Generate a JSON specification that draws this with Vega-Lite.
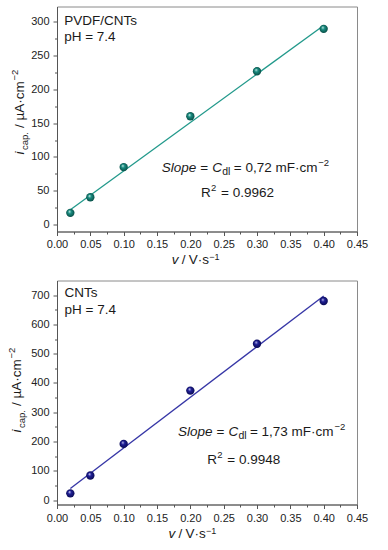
{
  "$schema": "https://vega.github.io/schema/vega-lite/v6.json",
  "background": "white",
  "autosize": {"type": "pad"},
  "padding": {"left": 6, "top": 5.5, "right": 5, "bottom": 5},
  "datasets": {
    "pvdf": [{"v": 0.02, "i": 17.5}, {"v": 0.05, "i": 40.5}, {"v": 0.1, "i": 85}, {"v": 0.2, "i": 160}, {"v": 0.3, "i": 226.5}, {"v": 0.4, "i": 289}],
    "pvdf_fit": [{"v": 0.02, "i": 22}, {"v": 0.4, "i": 294}],
    "cnt": [{"v": 0.02, "i": 23}, {"v": 0.05, "i": 84}, {"v": 0.1, "i": 192}, {"v": 0.2, "i": 374}, {"v": 0.3, "i": 534}, {"v": 0.4, "i": 680}],
    "cnt_fit": [{"v": 0.02, "i": 40}, {"v": 0.4, "i": 697}],
    "one": [{}]
  },
  "vconcat": [
    {
      "width": 300,
      "height": 225,
      "resolve": {"axis": {"x": "independent", "y": "independent"}},
      "layer": [
        {
          "data": {"name": "pvdf_fit"},
          "mark": {"type": "line", "color": "#22998b", "strokeWidth": 1.3},
          "encoding": {
            "x": {"field": "v", "type": "quantitative", "scale": {"domain": [0, 0.45], "nice": false, "zero": false}, "axis": {"orient": "bottom", "values": [0.025, 0.075, 0.125, 0.175, 0.225, 0.275, 0.325, 0.375, 0.425], "labels": false, "domain": false, "grid": false, "title": null, "tickSize": 2.5, "tickColor": "#555"}},
            "y": {"field": "i", "type": "quantitative", "scale": {"domain": [-10, 322], "nice": false, "zero": false}, "axis": {"orient": "left", "values": [25, 75, 125, 175, 225, 275], "labels": false, "domain": false, "grid": false, "title": null, "tickSize": 2.5, "tickColor": "#555"}}
          }
        },
        {
          "data": {"name": "pvdf"},
          "mark": {"type": "point", "filled": true, "size": 70, "opacity": 1, "strokeWidth": 0,
            "fill": {"gradient": "radial", "x1": 0.38, "y1": 0.32, "r1": 0, "x2": 0.5, "y2": 0.5, "r2": 0.55,
              "stops": [{"offset": 0, "color": "#e6f7f4"}, {"offset": 0.35, "color": "#1a9084"}, {"offset": 1, "color": "#07463f"}]}},
          "encoding": {
            "x": {"field": "v", "type": "quantitative", "scale": {"domain": [0, 0.45], "nice": false, "zero": false}, "axis": {"orient": "bottom", "values": [0, 0.05, 0.1, 0.15, 0.2, 0.25, 0.3, 0.35, 0.4, 0.45], "format": ".2f", "title": null, "grid": false, "tickSize": 4, "labelPadding": 3, "labelFlush": false, "labelOverlap": false}},
            "y": {"field": "i", "type": "quantitative", "scale": {"domain": [-10, 322], "nice": false, "zero": false}, "axis": {"orient": "left", "values": [0, 50, 100, 150, 200, 250, 300], "title": null, "grid": false, "tickSize": 4, "labelPadding": 4, "labelFlush": false, "labelOverlap": false}}
          }
        },
        {"data": {"name": "one"}, "mark": {"type": "text", "text": "PVDF/CNTs", "fontSize": 13.5}, "encoding": {"x": {"datum": 0.0108, "type": "quantitative", "scale": {"domain": [0, 0.45], "nice": false, "zero": false}, "axis": null}, "y": {"datum": 294.4, "type": "quantitative", "scale": {"domain": [-10, 322], "nice": false, "zero": false}, "axis": null}}},
        {"data": {"name": "one"}, "mark": {"type": "text", "text": "pH = 7.4", "fontSize": 13.5}, "encoding": {"x": {"datum": 0.0108, "type": "quantitative", "scale": {"domain": [0, 0.45], "nice": false, "zero": false}, "axis": null}, "y": {"datum": 270.4, "type": "quantitative", "scale": {"domain": [-10, 322], "nice": false, "zero": false}, "axis": null}}},
        {"data": {"name": "one"}, "mark": {"type": "text", "text": "Slope", "fontSize": 13.5, "fontStyle": "italic"}, "encoding": {"x": {"datum": 0.1572, "type": "quantitative", "scale": {"domain": [0, 0.45], "nice": false, "zero": false}, "axis": null}, "y": {"datum": 78.5, "type": "quantitative", "scale": {"domain": [-10, 322], "nice": false, "zero": false}, "axis": null}}},
        {"data": {"name": "one"}, "mark": {"type": "text", "text": "=", "fontSize": 13.5, "dx": 38.5}, "encoding": {"x": {"datum": 0.1572, "type": "quantitative", "scale": {"domain": [0, 0.45], "nice": false, "zero": false}, "axis": null}, "y": {"datum": 78.5, "type": "quantitative", "scale": {"domain": [-10, 322], "nice": false, "zero": false}, "axis": null}}},
        {"data": {"name": "one"}, "mark": {"type": "text", "text": "C", "fontSize": 13.5, "fontStyle": "italic", "dx": 50.4}, "encoding": {"x": {"datum": 0.1572, "type": "quantitative", "scale": {"domain": [0, 0.45], "nice": false, "zero": false}, "axis": null}, "y": {"datum": 78.5, "type": "quantitative", "scale": {"domain": [-10, 322], "nice": false, "zero": false}, "axis": null}}},
        {"data": {"name": "one"}, "mark": {"type": "text", "text": "dl", "fontSize": 10.5, "dx": 60.4, "dy": 3}, "encoding": {"x": {"datum": 0.1572, "type": "quantitative", "scale": {"domain": [0, 0.45], "nice": false, "zero": false}, "axis": null}, "y": {"datum": 78.5, "type": "quantitative", "scale": {"domain": [-10, 322], "nice": false, "zero": false}, "axis": null}}},
        {"data": {"name": "one"}, "mark": {"type": "text", "text": "=", "fontSize": 13.5, "dx": 72}, "encoding": {"x": {"datum": 0.1572, "type": "quantitative", "scale": {"domain": [0, 0.45], "nice": false, "zero": false}, "axis": null}, "y": {"datum": 78.5, "type": "quantitative", "scale": {"domain": [-10, 322], "nice": false, "zero": false}, "axis": null}}},
        {"data": {"name": "one"}, "mark": {"type": "text", "text": "0,72", "fontSize": 13.5, "dx": 83.6}, "encoding": {"x": {"datum": 0.1572, "type": "quantitative", "scale": {"domain": [0, 0.45], "nice": false, "zero": false}, "axis": null}, "y": {"datum": 78.5, "type": "quantitative", "scale": {"domain": [-10, 322], "nice": false, "zero": false}, "axis": null}}},
        {"data": {"name": "one"}, "mark": {"type": "text", "text": "mF·cm", "fontSize": 13.5, "dx": 113.6}, "encoding": {"x": {"datum": 0.1572, "type": "quantitative", "scale": {"domain": [0, 0.45], "nice": false, "zero": false}, "axis": null}, "y": {"datum": 78.5, "type": "quantitative", "scale": {"domain": [-10, 322], "nice": false, "zero": false}, "axis": null}}},
        {"data": {"name": "one"}, "mark": {"type": "text", "text": "−2", "fontSize": 9.5, "dx": 156.5, "dy": -6}, "encoding": {"x": {"datum": 0.1572, "type": "quantitative", "scale": {"domain": [0, 0.45], "nice": false, "zero": false}, "axis": null}, "y": {"datum": 78.5, "type": "quantitative", "scale": {"domain": [-10, 322], "nice": false, "zero": false}, "axis": null}}},
        {"data": {"name": "one"}, "mark": {"type": "text", "text": "R", "fontSize": 13.5}, "encoding": {"x": {"datum": 0.216, "type": "quantitative", "scale": {"domain": [0, 0.45], "nice": false, "zero": false}, "axis": null}, "y": {"datum": 41.6, "type": "quantitative", "scale": {"domain": [-10, 322], "nice": false, "zero": false}, "axis": null}}},
        {"data": {"name": "one"}, "mark": {"type": "text", "text": "2", "fontSize": 9.5, "dx": 10, "dy": -6}, "encoding": {"x": {"datum": 0.216, "type": "quantitative", "scale": {"domain": [0, 0.45], "nice": false, "zero": false}, "axis": null}, "y": {"datum": 41.6, "type": "quantitative", "scale": {"domain": [-10, 322], "nice": false, "zero": false}, "axis": null}}},
        {"data": {"name": "one"}, "mark": {"type": "text", "text": "= 0.9962", "fontSize": 13.5, "dx": 20}, "encoding": {"x": {"datum": 0.216, "type": "quantitative", "scale": {"domain": [0, 0.45], "nice": false, "zero": false}, "axis": null}, "y": {"datum": 41.6, "type": "quantitative", "scale": {"domain": [-10, 322], "nice": false, "zero": false}, "axis": null}}},
        {"data": {"name": "one"}, "mark": {"type": "text", "text": "v", "fontSize": 13.5, "fontStyle": "italic"}, "encoding": {"x": {"datum": 0.1722, "type": "quantitative", "scale": {"domain": [0, 0.45], "nice": false, "zero": false}, "axis": null}, "y": {"datum": -58.3, "type": "quantitative", "scale": {"domain": [-10, 322], "nice": false, "zero": false}, "axis": null}}},
        {"data": {"name": "one"}, "mark": {"type": "text", "text": "/", "fontSize": 13.5, "dx": 10}, "encoding": {"x": {"datum": 0.1722, "type": "quantitative", "scale": {"domain": [0, 0.45], "nice": false, "zero": false}, "axis": null}, "y": {"datum": -58.3, "type": "quantitative", "scale": {"domain": [-10, 322], "nice": false, "zero": false}, "axis": null}}},
        {"data": {"name": "one"}, "mark": {"type": "text", "text": "V·s", "fontSize": 13.5, "dx": 17}, "encoding": {"x": {"datum": 0.1722, "type": "quantitative", "scale": {"domain": [0, 0.45], "nice": false, "zero": false}, "axis": null}, "y": {"datum": -58.3, "type": "quantitative", "scale": {"domain": [-10, 322], "nice": false, "zero": false}, "axis": null}}},
        {"data": {"name": "one"}, "mark": {"type": "text", "text": "−1", "fontSize": 9, "dx": 37.5, "dy": -4.5}, "encoding": {"x": {"datum": 0.1722, "type": "quantitative", "scale": {"domain": [0, 0.45], "nice": false, "zero": false}, "axis": null}, "y": {"datum": -58.3, "type": "quantitative", "scale": {"domain": [-10, 322], "nice": false, "zero": false}, "axis": null}}},
        {"data": {"name": "one"}, "mark": {"type": "text", "text": "i", "fontSize": 13.5, "fontStyle": "italic", "angle": 270}, "encoding": {"x": {"datum": -0.0488, "type": "quantitative", "scale": {"domain": [0, 0.45], "nice": false, "zero": false}, "axis": null}, "y": {"datum": 103.6, "type": "quantitative", "scale": {"domain": [-10, 322], "nice": false, "zero": false}, "axis": null}}},
        {"data": {"name": "one"}, "mark": {"type": "text", "text": "cap.", "fontSize": 9.5, "angle": 270, "dx": 4.5, "dy": 3.5}, "encoding": {"x": {"datum": -0.0488, "type": "quantitative", "scale": {"domain": [0, 0.45], "nice": false, "zero": false}, "axis": null}, "y": {"datum": 103.6, "type": "quantitative", "scale": {"domain": [-10, 322], "nice": false, "zero": false}, "axis": null}}},
        {"data": {"name": "one"}, "mark": {"type": "text", "text": "/", "fontSize": 13.5, "angle": 270, "dx": 26.5}, "encoding": {"x": {"datum": -0.0488, "type": "quantitative", "scale": {"domain": [0, 0.45], "nice": false, "zero": false}, "axis": null}, "y": {"datum": 103.6, "type": "quantitative", "scale": {"domain": [-10, 322], "nice": false, "zero": false}, "axis": null}}},
        {"data": {"name": "one"}, "mark": {"type": "text", "text": "µA·cm", "fontSize": 13.5, "angle": 270, "dx": 34}, "encoding": {"x": {"datum": -0.0488, "type": "quantitative", "scale": {"domain": [0, 0.45], "nice": false, "zero": false}, "axis": null}, "y": {"datum": 103.6, "type": "quantitative", "scale": {"domain": [-10, 322], "nice": false, "zero": false}, "axis": null}}},
        {"data": {"name": "one"}, "mark": {"type": "text", "text": "−2", "fontSize": 9.5, "angle": 270, "dx": 74, "dy": -6}, "encoding": {"x": {"datum": -0.0488, "type": "quantitative", "scale": {"domain": [0, 0.45], "nice": false, "zero": false}, "axis": null}, "y": {"datum": 103.6, "type": "quantitative", "scale": {"domain": [-10, 322], "nice": false, "zero": false}, "axis": null}}}
      ]
    },
    {
      "width": 300,
      "height": 224,
      "resolve": {"axis": {"x": "independent", "y": "independent"}},
      "layer": [
        {
          "data": {"name": "cnt_fit"},
          "mark": {"type": "line", "color": "#3636a6", "strokeWidth": 1.3},
          "encoding": {
            "x": {"field": "v", "type": "quantitative", "scale": {"domain": [0, 0.45], "nice": false, "zero": false}, "axis": {"orient": "bottom", "values": [0.025, 0.075, 0.125, 0.175, 0.225, 0.275, 0.325, 0.375, 0.425], "labels": false, "domain": false, "grid": false, "title": null, "tickSize": 2.5, "tickColor": "#555"}},
            "y": {"field": "i", "type": "quantitative", "scale": {"domain": [-15, 750], "nice": false, "zero": false}, "axis": {"orient": "left", "values": [50, 150, 250, 350, 450, 550, 650], "labels": false, "domain": false, "grid": false, "title": null, "tickSize": 2.5, "tickColor": "#555"}}
          }
        },
        {
          "data": {"name": "cnt"},
          "mark": {"type": "point", "filled": true, "size": 70, "opacity": 1, "strokeWidth": 0,
            "fill": {"gradient": "radial", "x1": 0.38, "y1": 0.32, "r1": 0, "x2": 0.5, "y2": 0.5, "r2": 0.55,
              "stops": [{"offset": 0, "color": "#e4e4fa"}, {"offset": 0.35, "color": "#20209a"}, {"offset": 1, "color": "#08084a"}]}},
          "encoding": {
            "x": {"field": "v", "type": "quantitative", "scale": {"domain": [0, 0.45], "nice": false, "zero": false}, "axis": {"orient": "bottom", "values": [0, 0.05, 0.1, 0.15, 0.2, 0.25, 0.3, 0.35, 0.4, 0.45], "format": ".2f", "title": null, "grid": false, "tickSize": 4, "labelPadding": 4, "labelFlush": false, "labelOverlap": false}},
            "y": {"field": "i", "type": "quantitative", "scale": {"domain": [-15, 750], "nice": false, "zero": false}, "axis": {"orient": "left", "values": [0, 100, 200, 300, 400, 500, 600, 700], "title": null, "grid": false, "tickSize": 4, "labelPadding": 4, "labelFlush": false, "labelOverlap": false}}
          }
        },
        {"data": {"name": "one"}, "mark": {"type": "text", "text": "CNTs", "fontSize": 13.5}, "encoding": {"x": {"datum": 0.0114, "type": "quantitative", "scale": {"domain": [0, 0.45], "nice": false, "zero": false}, "axis": null}, "y": {"datum": 693, "type": "quantitative", "scale": {"domain": [-15, 750], "nice": false, "zero": false}, "axis": null}}},
        {"data": {"name": "one"}, "mark": {"type": "text", "text": "pH = 7.4", "fontSize": 13.5}, "encoding": {"x": {"datum": 0.0114, "type": "quantitative", "scale": {"domain": [0, 0.45], "nice": false, "zero": false}, "axis": null}, "y": {"datum": 636.3, "type": "quantitative", "scale": {"domain": [-15, 750], "nice": false, "zero": false}, "axis": null}}},
        {"data": {"name": "one"}, "mark": {"type": "text", "text": "Slope", "fontSize": 13.5, "fontStyle": "italic"}, "encoding": {"x": {"datum": 0.1815, "type": "quantitative", "scale": {"domain": [0, 0.45], "nice": false, "zero": false}, "axis": null}, "y": {"datum": 220.6, "type": "quantitative", "scale": {"domain": [-15, 750], "nice": false, "zero": false}, "axis": null}}},
        {"data": {"name": "one"}, "mark": {"type": "text", "text": "=", "fontSize": 13.5, "dx": 38.5}, "encoding": {"x": {"datum": 0.1815, "type": "quantitative", "scale": {"domain": [0, 0.45], "nice": false, "zero": false}, "axis": null}, "y": {"datum": 220.6, "type": "quantitative", "scale": {"domain": [-15, 750], "nice": false, "zero": false}, "axis": null}}},
        {"data": {"name": "one"}, "mark": {"type": "text", "text": "C", "fontSize": 13.5, "fontStyle": "italic", "dx": 50.4}, "encoding": {"x": {"datum": 0.1815, "type": "quantitative", "scale": {"domain": [0, 0.45], "nice": false, "zero": false}, "axis": null}, "y": {"datum": 220.6, "type": "quantitative", "scale": {"domain": [-15, 750], "nice": false, "zero": false}, "axis": null}}},
        {"data": {"name": "one"}, "mark": {"type": "text", "text": "dl", "fontSize": 10.5, "dx": 60.4, "dy": 3}, "encoding": {"x": {"datum": 0.1815, "type": "quantitative", "scale": {"domain": [0, 0.45], "nice": false, "zero": false}, "axis": null}, "y": {"datum": 220.6, "type": "quantitative", "scale": {"domain": [-15, 750], "nice": false, "zero": false}, "axis": null}}},
        {"data": {"name": "one"}, "mark": {"type": "text", "text": "=", "fontSize": 13.5, "dx": 72}, "encoding": {"x": {"datum": 0.1815, "type": "quantitative", "scale": {"domain": [0, 0.45], "nice": false, "zero": false}, "axis": null}, "y": {"datum": 220.6, "type": "quantitative", "scale": {"domain": [-15, 750], "nice": false, "zero": false}, "axis": null}}},
        {"data": {"name": "one"}, "mark": {"type": "text", "text": "1,73", "fontSize": 13.5, "dx": 83.6}, "encoding": {"x": {"datum": 0.1815, "type": "quantitative", "scale": {"domain": [0, 0.45], "nice": false, "zero": false}, "axis": null}, "y": {"datum": 220.6, "type": "quantitative", "scale": {"domain": [-15, 750], "nice": false, "zero": false}, "axis": null}}},
        {"data": {"name": "one"}, "mark": {"type": "text", "text": "mF·cm", "fontSize": 13.5, "dx": 113.6}, "encoding": {"x": {"datum": 0.1815, "type": "quantitative", "scale": {"domain": [0, 0.45], "nice": false, "zero": false}, "axis": null}, "y": {"datum": 220.6, "type": "quantitative", "scale": {"domain": [-15, 750], "nice": false, "zero": false}, "axis": null}}},
        {"data": {"name": "one"}, "mark": {"type": "text", "text": "−2", "fontSize": 9.5, "dx": 156.5, "dy": -6}, "encoding": {"x": {"datum": 0.1815, "type": "quantitative", "scale": {"domain": [0, 0.45], "nice": false, "zero": false}, "axis": null}, "y": {"datum": 220.6, "type": "quantitative", "scale": {"domain": [-15, 750], "nice": false, "zero": false}, "axis": null}}},
        {"data": {"name": "one"}, "mark": {"type": "text", "text": "R", "fontSize": 13.5}, "encoding": {"x": {"datum": 0.2254, "type": "quantitative", "scale": {"domain": [0, 0.45], "nice": false, "zero": false}, "axis": null}, "y": {"datum": 124, "type": "quantitative", "scale": {"domain": [-15, 750], "nice": false, "zero": false}, "axis": null}}},
        {"data": {"name": "one"}, "mark": {"type": "text", "text": "2", "fontSize": 9.5, "dx": 10, "dy": -6}, "encoding": {"x": {"datum": 0.2254, "type": "quantitative", "scale": {"domain": [0, 0.45], "nice": false, "zero": false}, "axis": null}, "y": {"datum": 124, "type": "quantitative", "scale": {"domain": [-15, 750], "nice": false, "zero": false}, "axis": null}}},
        {"data": {"name": "one"}, "mark": {"type": "text", "text": "= 0.9948", "fontSize": 13.5, "dx": 20}, "encoding": {"x": {"datum": 0.2254, "type": "quantitative", "scale": {"domain": [0, 0.45], "nice": false, "zero": false}, "axis": null}, "y": {"datum": 124, "type": "quantitative", "scale": {"domain": [-15, 750], "nice": false, "zero": false}, "axis": null}}},
        {"data": {"name": "one"}, "mark": {"type": "text", "text": "v", "fontSize": 13.5, "fontStyle": "italic"}, "encoding": {"x": {"datum": 0.1674, "type": "quantitative", "scale": {"domain": [0, 0.45], "nice": false, "zero": false}, "axis": null}, "y": {"datum": -130, "type": "quantitative", "scale": {"domain": [-15, 750], "nice": false, "zero": false}, "axis": null}}},
        {"data": {"name": "one"}, "mark": {"type": "text", "text": "/", "fontSize": 13.5, "dx": 10}, "encoding": {"x": {"datum": 0.1674, "type": "quantitative", "scale": {"domain": [0, 0.45], "nice": false, "zero": false}, "axis": null}, "y": {"datum": -130, "type": "quantitative", "scale": {"domain": [-15, 750], "nice": false, "zero": false}, "axis": null}}},
        {"data": {"name": "one"}, "mark": {"type": "text", "text": "V·s", "fontSize": 13.5, "dx": 17}, "encoding": {"x": {"datum": 0.1674, "type": "quantitative", "scale": {"domain": [0, 0.45], "nice": false, "zero": false}, "axis": null}, "y": {"datum": -130, "type": "quantitative", "scale": {"domain": [-15, 750], "nice": false, "zero": false}, "axis": null}}},
        {"data": {"name": "one"}, "mark": {"type": "text", "text": "−1", "fontSize": 9, "dx": 37.5, "dy": -4.5}, "encoding": {"x": {"datum": 0.1674, "type": "quantitative", "scale": {"domain": [0, 0.45], "nice": false, "zero": false}, "axis": null}, "y": {"datum": -130, "type": "quantitative", "scale": {"domain": [-15, 750], "nice": false, "zero": false}, "axis": null}}},
        {"data": {"name": "one"}, "mark": {"type": "text", "text": "i", "fontSize": 13.5, "fontStyle": "italic", "angle": 270}, "encoding": {"x": {"datum": -0.054, "type": "quantitative", "scale": {"domain": [0, 0.45], "nice": false, "zero": false}, "axis": null}, "y": {"datum": 231, "type": "quantitative", "scale": {"domain": [-15, 750], "nice": false, "zero": false}, "axis": null}}},
        {"data": {"name": "one"}, "mark": {"type": "text", "text": "cap.", "fontSize": 9.5, "angle": 270, "dx": 4.5, "dy": 3.5}, "encoding": {"x": {"datum": -0.054, "type": "quantitative", "scale": {"domain": [0, 0.45], "nice": false, "zero": false}, "axis": null}, "y": {"datum": 231, "type": "quantitative", "scale": {"domain": [-15, 750], "nice": false, "zero": false}, "axis": null}}},
        {"data": {"name": "one"}, "mark": {"type": "text", "text": "/", "fontSize": 13.5, "angle": 270, "dx": 26.5}, "encoding": {"x": {"datum": -0.054, "type": "quantitative", "scale": {"domain": [0, 0.45], "nice": false, "zero": false}, "axis": null}, "y": {"datum": 231, "type": "quantitative", "scale": {"domain": [-15, 750], "nice": false, "zero": false}, "axis": null}}},
        {"data": {"name": "one"}, "mark": {"type": "text", "text": "µA·cm", "fontSize": 13.5, "angle": 270, "dx": 34}, "encoding": {"x": {"datum": -0.054, "type": "quantitative", "scale": {"domain": [0, 0.45], "nice": false, "zero": false}, "axis": null}, "y": {"datum": 231, "type": "quantitative", "scale": {"domain": [-15, 750], "nice": false, "zero": false}, "axis": null}}},
        {"data": {"name": "one"}, "mark": {"type": "text", "text": "−2", "fontSize": 9.5, "angle": 270, "dx": 74, "dy": -6}, "encoding": {"x": {"datum": -0.054, "type": "quantitative", "scale": {"domain": [0, 0.45], "nice": false, "zero": false}, "axis": null}, "y": {"datum": 231, "type": "quantitative", "scale": {"domain": [-15, 750], "nice": false, "zero": false}, "axis": null}}}
      ]
    }
  ],
  "spacing": 12,
  "config": {
    "view": {"stroke": "#8a8a8a", "strokeWidth": 1},
    "axis": {"domainColor": "#555", "tickColor": "#555", "domainWidth": 1, "tickWidth": 1, "labelFont": "Liberation Sans", "labelFontSize": 11, "labelColor": "#222"},
    "text": {"font": "Liberation Sans", "fontSize": 13.5, "align": "left", "baseline": "alphabetic", "color": "#1a1a1a"}
  }
}
